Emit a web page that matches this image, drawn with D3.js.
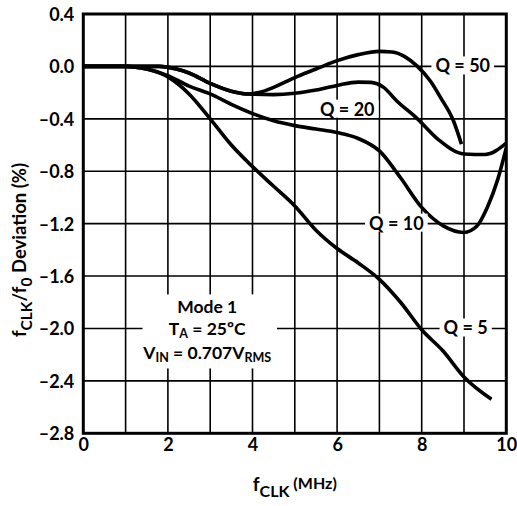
<!DOCTYPE html>
<html>
<head>
<meta charset="utf-8">
<script src="https://cdn.jsdelivr.net/npm/d3@7"></script>
<style>
  html, body { margin: 0; padding: 0; background: #fff; }
  svg { display: block; }
  text { font-family: Lato, "Open Sans", sans-serif; font-weight: 700; fill: #000; }
</style>
</head>
<body>
<script>
// ---- data ----
const xTickValues = [0, 2, 4, 6, 8, 10];
const yTickValues = [0.4, 0.0, -0.4, -0.8, -1.2, -1.6, -2.0, -2.4, -2.8];
const yTickLabels = ["0.4", "0.0", "–0.4", "–0.8", "–1.2", "–1.6", "–2.0", "–2.4", "–2.8"];
const xGrid = [1, 2, 3, 4, 5, 6, 7, 8, 9];

const q50Freq = [0, 1, 1.8, 2.2, 2.5, 3.0, 3.5, 3.85, 4.2, 4.5, 5.0, 5.5, 6.0, 6.5, 7.0, 7.3, 7.6, 7.9, 8.2, 8.45, 8.75, 8.94];
const q50Dev  = [0, 0, 0, -0.02, -0.05, -0.13, -0.19, -0.21, -0.195, -0.16, -0.085, -0.02, 0.044, 0.09, 0.115, 0.11, 0.075, 0.0, -0.11, -0.24, -0.415, -0.593];

const q20Freq = [0, 1, 1.8, 2.2, 2.5, 3.0, 3.5, 3.85, 4.5, 5.0, 5.5, 6.0, 6.5, 6.8, 7.1, 7.4, 7.9, 8.4, 9.0, 9.5, 10];
const q20Dev  = [0, 0, 0, -0.02, -0.05, -0.13, -0.19, -0.21, -0.215, -0.205, -0.18, -0.145, -0.12, -0.122, -0.16, -0.26, -0.40, -0.56, -0.668, -0.672, -0.585];

const q10Freq = [0, 1, 1.5, 2.0, 2.5, 3.0, 3.5, 4.0, 4.5, 5.0, 5.5, 6.0, 6.5, 7.0, 7.5, 8.0, 8.5, 9.0, 9.3, 9.55, 9.8, 10];
const q10Dev  = [0, 0, -0.02, -0.07, -0.15, -0.21, -0.29, -0.36, -0.415, -0.452, -0.478, -0.505, -0.55, -0.645, -0.85, -1.076, -1.215, -1.267, -1.22, -1.076, -0.86, -0.62];

const q5Freq = [0, 1, 1.5, 2.0, 2.5, 3.0, 3.5, 4.0, 4.5, 5.0, 5.5, 6.0, 6.5, 7.0, 7.5, 8.0, 8.5, 9.0, 9.65];
const q5Dev  = [0, 0, -0.02, -0.08, -0.21, -0.40, -0.60, -0.765, -0.915, -1.065, -1.25, -1.39, -1.50, -1.625, -1.80, -2.01, -2.17, -2.37, -2.54];

const curveLabels = ["Q = 50", "Q = 20", "Q = 10", "Q = 5"];
const curveLabelX = [8.97, 6.24, 7.4, 9.04];
const curveLabelY = [0.0, -0.33, -1.2, -2.0];

// ---- layout ----
const W = 517, H = 506;
const svg = d3.select("body").append("svg").attr("width", W).attr("height", H);
const x = d3.scaleLinear().domain([0, 10]).range([83.3, 506.3]);
const y = d3.scaleLinear().domain([0.4, -2.8]).range([14, 433.3]);

// grid
const grid = svg.append("g").attr("stroke", "#000").attr("stroke-width", 1.6);
grid.selectAll("line.v").data(xGrid).join("line")
  .attr("x1", d => x(d)).attr("x2", d => x(d)).attr("y1", y(0.4)).attr("y2", y(-2.8));
grid.selectAll("line.h").data(yTickValues.slice(1, -1)).join("line")
  .attr("x1", x(0)).attr("x2", x(10)).attr("y1", d => y(d)).attr("y2", d => y(d));

// info box (covers grid)
const box = svg.append("g");
box.append("rect").attr("x", x(1.4)).attr("y", y(-1.74)).attr("width", x(4.58) - x(1.4)).attr("height", y(-2.305) - y(-1.74)).attr("fill", "#fff");
const bx = x(2.93);
box.append("text").attr("x", bx).attr("y", y(-1.88)).attr("text-anchor", "middle").attr("font-size", 17.5).text("Mode 1");
const t2 = box.append("text").attr("x", bx).attr("y", y(-2.052)).attr("text-anchor", "middle").attr("font-size", 17.5);
t2.append("tspan").text("T");
t2.append("tspan").attr("font-size", 12.5).attr("dy", 3).text("A");
t2.append("tspan").attr("dy", -3).text(" = 25ºC");
const t3 = box.append("text").attr("x", bx).attr("y", y(-2.23)).attr("text-anchor", "middle").attr("font-size", 17.5);
t3.append("tspan").text("V");
t3.append("tspan").attr("font-size", 12.5).attr("dy", 3).text("IN");
t3.append("tspan").attr("dy", -3).text(" = 0.707V");
t3.append("tspan").attr("font-size", 12.5).attr("dy", 3).text("RMS");

// curves
const line = d3.line().x(d => x(d[0])).y(d => y(d[1])).curve(d3.curveMonotoneX);
const series = [
  d3.zip(q50Freq, q50Dev),
  d3.zip(q20Freq, q20Dev),
  d3.zip(q10Freq, q10Dev),
  d3.zip(q5Freq, q5Dev)
];
svg.append("defs").append("clipPath").attr("id", "plotclip").append("rect")
  .attr("x", x(0)).attr("y", y(0.4)).attr("width", x(10) - x(0)).attr("height", y(-2.8) - y(0.4));
svg.append("g").attr("clip-path", "url(#plotclip)").selectAll("path").data(series).join("path")
  .attr("d", line).attr("fill", "none").attr("stroke", "#000").attr("stroke-width", 3.6);

// curve labels with white background
const lab = svg.append("g").selectAll("g").data(curveLabels).join("g");
lab.append("text")
  .attr("x", (d, i) => x(curveLabelX[i])).attr("y", (d, i) => y(curveLabelY[i]) + 6)
  .attr("text-anchor", "middle").attr("font-size", 18).text(d => d);
lab.each(function() {
  const g = d3.select(this);
  const bb = g.select("text").node().getBBox();
  g.insert("rect", "text").attr("x", bb.x - 4).attr("y", bb.y + 2).attr("width", bb.width + 8).attr("height", bb.height - 4).attr("fill", "#fff");
});

// frame
svg.append("rect").attr("x", x(0)).attr("y", y(0.4)).attr("width", x(10) - x(0)).attr("height", y(-2.8) - y(0.4))
  .attr("fill", "none").attr("stroke", "#000").attr("stroke-width", 3);

// axes tick labels
const yAxis = d3.axisLeft(y).tickValues(yTickValues).tickFormat((d, i) => yTickLabels[i]).tickSize(0).tickPadding(9);
const ga = svg.append("g").attr("transform", `translate(${x(0)},0)`).call(yAxis);
ga.select(".domain").remove();
ga.selectAll("text").attr("font-size", 18).attr("font-family", "Lato, sans-serif").attr("font-weight", 700).attr("dy", "0.36em");

const xAxis = d3.axisBottom(x).tickValues(xTickValues).tickFormat(d3.format("d")).tickSize(0).tickPadding(5);
const gb = svg.append("g").attr("transform", `translate(0,${y(-2.8)})`).call(xAxis);
gb.select(".domain").remove();
gb.selectAll("text").attr("font-size", 18).attr("font-family", "Lato, sans-serif").attr("font-weight", 700);

// axis titles
const xt = svg.append("text").attr("x", (x(0) + x(10)) / 2).attr("y", 491).attr("text-anchor", "middle").attr("font-size", 19);
xt.append("tspan").text("f");
xt.append("tspan").attr("font-size", 16).attr("dy", 6).text("CLK");
xt.append("tspan").attr("font-size", 16).attr("dy", -8).text(" (MHz)");

const yt = svg.append("text").attr("transform", "translate(26,250) rotate(-90)").attr("text-anchor", "middle").attr("font-size", 18.5);
yt.append("tspan").text("f");
yt.append("tspan").attr("font-size", 15.5).attr("dy", 6).text("CLK");
yt.append("tspan").attr("dy", -6).text("/f");
yt.append("tspan").attr("font-size", 15.5).attr("dy", 6).text("0");
yt.append("tspan").attr("dy", -6).text(" Deviation (%)");
</script>
</body>
</html>
